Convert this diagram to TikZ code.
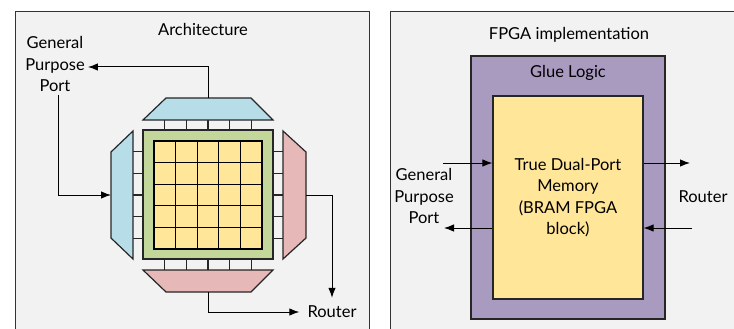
\documentclass[tikz,border=0pt]{standalone}
\usepackage{fontspec}
\setmainfont{Lato}
\usetikzlibrary{arrows.meta,positioning}
\definecolor{panelgray}{HTML}{F2F2F2}
\definecolor{portblue}{HTML}{B7DEE8}
\definecolor{routerpink}{HTML}{E6B8B7}
\definecolor{nocgreen}{HTML}{C4D79B}
\definecolor{memyellow}{HTML}{FFE699}
\definecolor{gluepurple}{HTML}{A99AC0}
\tikzset{
  panel/.style={draw=black!80, fill=panelgray, line width=1pt},
  blk/.style={draw=black!85, line width=1.2pt},
  cell/.style={draw=black, line width=1.2pt, fill=memyellow, minimum size=21.6pt, inner sep=0pt},
  lbl/.style={font=\fontsize{16.5}{21.5}\selectfont, align=center, inner sep=0pt},
  link/.style={-{Latex[length=10pt,width=7.5pt]}, line width=1pt},
  tick/.style={draw=black!85, line width=1.2pt}
}
\begin{document}
\begin{tikzpicture}[x=1pt,y=-1pt]
\useasboundingbox (0,0) rectangle (734,329);
% the two panels
\fill[panelgray] (15,12) rectangle (369,335);
\draw[panel] (15,335) -- (15,12) -- (369,12) -- (369,335);
\fill[panelgray] (390,12) rectangle (740,335);
\draw[panel] (390,335) -- (390,12) -- (740,12);
\node[lbl] (archtitle) at (203,29) {Architecture};
\node[lbl] (fpgatitle) at (569,35) {FPGA implementation};

% --- architecture ---
\node[blk, fill=nocgreen, minimum width=130pt, minimum height=129pt, inner sep=0pt] (noc) at (208,194.5) {};
\foreach \i in {0,...,4}
  \foreach \j in {0,...,4}
    \node[cell] (c\i\j) at (164.8+21.6*\i,151.8+21.6*\j) {};
% ports round the mesh
\foreach \k in {0,...,4} {
  \draw[tick] (c\k0.center |- noc.north) -- ++(0,-10);
  \draw[tick] (c\k4.center |- noc.south) -- ++(0,11);
  \draw[tick] (noc.west |- c0\k.center) -- ++(-10,0);
  \draw[tick] (noc.east |- c4\k.center) -- ++(10,0);
}
\draw[blk, fill=portblue] (143,120) -- (166,98) -- (251,98) -- (273,120) -- cycle;
\draw[blk, fill=portblue] (133,131) -- (133,259) -- (111,238) -- (111,152) -- cycle;
\draw[blk, fill=routerpink] (283,131) -- (306,152) -- (306,238) -- (283,259) -- cycle;
\draw[blk, fill=routerpink] (143,270) -- (273,270) -- (251,292) -- (166,292) -- cycle;
\coordinate (topout) at (208,98);
\coordinate (leftin) at (111,195);
\coordinate (rightout) at (306,195);
\coordinate (botout) at (208,292);

\node[lbl, inner sep=3pt] (gpp) at (55,64) {General\\Purpose\\Port};
\node[lbl, inner sep=8pt] (rtr) at (332,312) {Router};
\draw[link] (topout) |- ([yshift=-3pt]gpp.east);
\draw[link] ([xshift=3pt]gpp.south) |- (leftin);
\draw[link] (rightout) -| (rtr.north);
\draw[link] (botout) |- (rtr.west);

% --- FPGA implementation ---
\node[blk, fill=gluepurple, minimum width=194pt, minimum height=263pt, inner sep=0pt] (glue) at (568,187.5) {};
\node[lbl, below=10pt of glue.north] (gluetxt) {Glue Logic};
\node[blk, fill=memyellow, minimum width=150pt, minimum height=203pt, lbl] (mem) at (568,197.5)
  {True Dual-Port\\Memory\\(BRAM FPGA\\block)};
\node[lbl] (gpp2) at (424,196) {General\\Purpose\\Port};
\node[lbl] (rtr2) at (703,197) {Router};
\coordinate (gpin) at (443,163);
\coordinate (gpout) at (444,228);
\coordinate (rtout) at (690,163);
\coordinate (rtin) at (692,228);
\draw[link] (gpin) -- (gpin -| mem.west);
\draw[link] (mem.west |- gpout) -- (gpout);
\draw[link] (mem.east |- rtout) -- (rtout);
\draw[link] (rtin) -- (rtin -| mem.east);
\end{tikzpicture}
\end{document}
